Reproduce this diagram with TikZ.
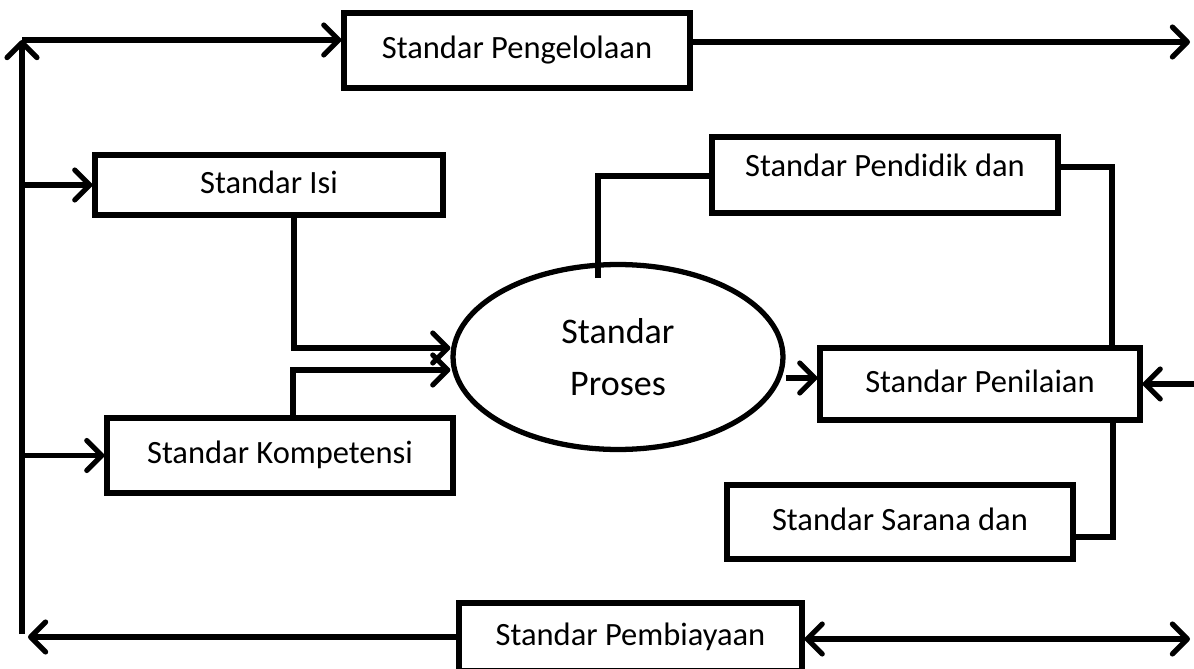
\documentclass[tikz,border=0pt]{standalone}
\usepackage{fontspec}
\setmainfont{Carlito}
\usetikzlibrary{arrows.meta,shapes.geometric}
\begin{document}
\begin{tikzpicture}[x=0.02cm,y=-0.02cm,line width=3pt,
  kotak/.style={draw,rectangle,inner sep=0pt,font=\fontsize{18.5}{22}\selectfont,text height=12.5pt,text depth=3pt},
  panah/.style={-{Straight Barb[length=8.5pt,width=17pt,round]}},
  duapanah/.style={{Straight Barb[length=8.5pt,width=17pt,round]}-{Straight Barb[length=8.5pt,width=17pt,round]}}]
\useasboundingbox (0,0) rectangle (1194,669);
\node[kotak,minimum width=6.92cm,minimum height=1.5cm] (peng) at (517,50.5) {Standar Pengelolaan};
\node[kotak,minimum width=6.96cm,minimum height=1.2cm] (isi) at (269,185) {Standar Isi};
\node[kotak,minimum width=6.92cm,minimum height=1.5cm] (komp) at (280,455.5) {Standar Kompetensi};
\node[draw,ellipse,inner sep=0pt,minimum width=6.6cm,minimum height=3.7cm,align=center,
  font=\fontsize{20.5}{29.5}\selectfont] (proses) at (618,357) {Standar\\Proses};
\node[kotak,minimum width=6.92cm,minimum height=1.52cm,text depth=11pt] (pend) at (885,175) {Standar Pendidik dan};
\node[kotak,minimum width=6.4cm,minimum height=1.44cm] (nilai) at (980,384) {Standar Penilaian};
\node[kotak,minimum width=6.92cm,minimum height=1.48cm] (sarana) at (900,522) {Standar Sarana dan};
\node[kotak,minimum width=6.86cm,minimum height=1.36cm] (biaya) at (630.5,637) {Standar Pembiayaan};
\coordinate (lt) at (22,40);
\coordinate (lb) at (22,634);
\coordinate (rt) at (1190,42);
\coordinate (rb) at (1190,639);
\coordinate (lk) at (28,637);
\coordinate (rn) at (1194,384);
\coordinate (a1) at (294,348);
\coordinate (a2) at (293,370);
\coordinate (b1) at (598,176);
\coordinate (c1) at (1112,167);
\coordinate (c2) at (1113,537);
\draw[panah] (lb) -- (lt);
\draw[panah] (lt) -- (lt -| peng.west);
\draw[panah] (lt |- isi.west) -- (isi.west);
\draw[panah] (lt |- komp.west) -- (komp.west);
\draw[panah] (peng.east |- rt) -- (rt);
\draw[panah] (isi.south -| a1) -- (a1) -- (proses.west |- a1);
\draw[panah] (komp.north -| a2) -- (a2) -- (proses.west |- a2);
\draw (598,278) -- (b1) -- (pend.west |- b1);
\draw (pend.east |- c1) -- (c1) -- (c1 |- nilai.north);
\draw (nilai.south -| c2) -- (c2) -- (sarana.east |- c2);
\draw[panah] (proses.east |- 0,378) -- (nilai.west |- 0,378);
\draw[panah] (rn) -- (nilai.east);
\draw[panah] (biaya.west) -- (lk);
\draw[duapanah] (biaya.east |- rb) -- (rb);
\end{tikzpicture}
\end{document}
